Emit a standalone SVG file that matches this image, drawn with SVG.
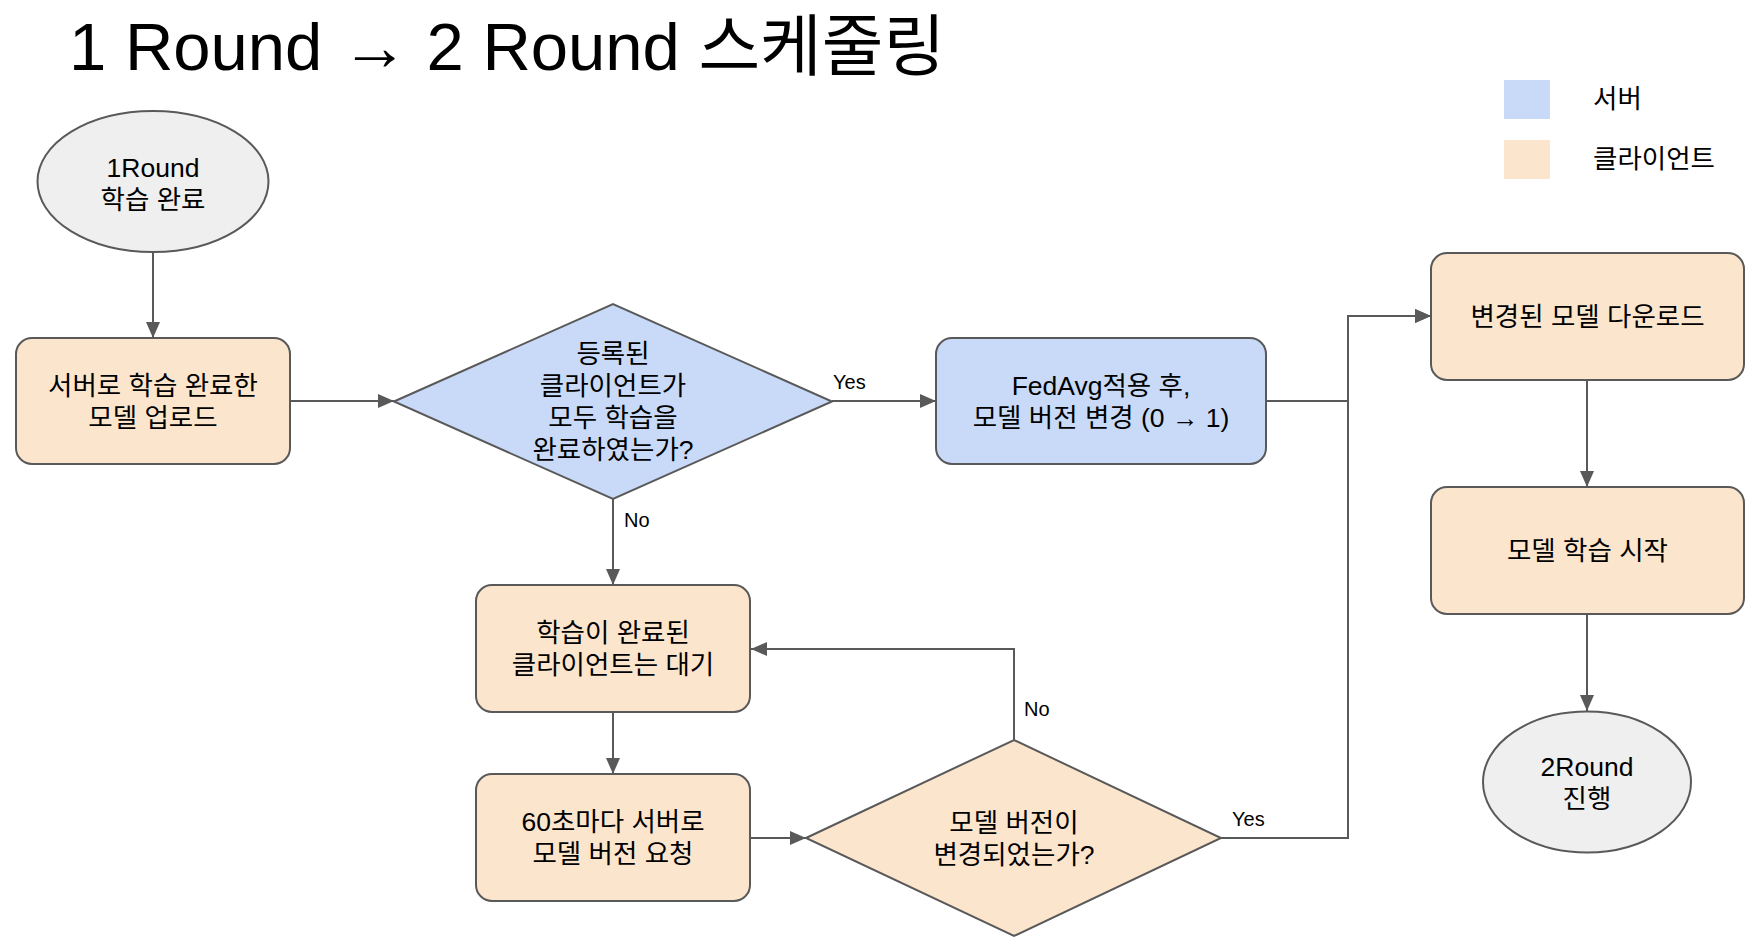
<svg xmlns="http://www.w3.org/2000/svg" width="1756" height="949" viewBox="0 0 1756 949">
<style>
.t{font-family:"Liberation Sans","Noto Sans CJK KR",sans-serif;fill:#000;}
.n{font-size:26.5px;text-anchor:middle;}
.lbl{font-size:20px;}
.cl{fill:#FCE5CD;stroke:#595959;stroke-width:2;}
.sv{fill:#C9DAF8;stroke:#595959;stroke-width:2;}
.gr{fill:#EFEFEF;stroke:#595959;stroke-width:2;}
.c{fill:none;stroke:#595959;stroke-width:2;marker-end:url(#ah);}
</style>
<defs>
<marker id="ah" markerUnits="userSpaceOnUse" markerWidth="16" markerHeight="14" refX="16" refY="7" orient="auto">
<path d="M0,0 L16,7 L0,14 z" fill="#595959"/>
</marker>
</defs>
<rect width="1756" height="949" fill="#fff"/>
<text class="t" x="69" y="70" font-size="67">1 Round → 2 Round 스케줄링</text>

<g id="legend">
<rect x="1504" y="80" width="46" height="39" fill="#C9DAF8"/>
<rect x="1504" y="140" width="46" height="39" fill="#FCE5CD"/>
<text class="t" x="1593" y="108" font-size="26.5">서버</text>
<text class="t" x="1593" y="168" font-size="26.5">클라이언트</text>
</g>

<g id="connectors">
<path class="c" d="M153 252 V338"/>
<path class="c" d="M290 401 H394"/>
<path class="c" d="M832 401 H936"/>
<path class="c" d="M1266 401 H1348 V316 H1431"/>
<path class="c" d="M1587 380 V487"/>
<path class="c" d="M1587 614 V711"/>
<path class="c" d="M613 499 V585"/>
<path class="c" d="M613 712 V774"/>
<path class="c" d="M750 838 H806"/>
<path class="c" d="M1014 740 V649 H751"/>
<path class="c" d="M1221 838 H1348 V316 H1431"/>
<text class="t lbl" x="833" y="389">Yes</text>
<text class="t lbl" x="624" y="527">No</text>
<text class="t lbl" x="1024" y="716">No</text>
<text class="t lbl" x="1232" y="826">Yes</text>
</g>

<g id="start">
<ellipse class="gr" cx="153" cy="181.5" rx="115.5" ry="70.5"/>
<text class="t n" x="153" y="177">1Round</text>
<text class="t n" x="153" y="209">학습 완료</text>
</g>

<g id="upload">
<rect class="cl" x="16" y="338" width="274" height="126" rx="16"/>
<text class="t n" x="153" y="395">서버로 학습 완료한</text>
<text class="t n" x="153" y="427">모델 업로드</text>
</g>

<g id="allDone">
<polygon class="sv" points="394,401.5 613,304 832,401.5 613,499"/>
<text class="t n" x="613" y="363">등록된</text>
<text class="t n" x="613" y="395">클라이언트가</text>
<text class="t n" x="613" y="427">모두 학습을</text>
<text class="t n" x="613" y="459">완료하였는가?</text>
</g>

<g id="fedavg">
<rect class="sv" x="936" y="338" width="330" height="126" rx="16"/>
<text class="t n" x="1101" y="395">FedAvg적용 후,</text>
<text class="t n" x="1101" y="427">모델 버전 변경 (0 → 1)</text>
</g>

<g id="download">
<rect class="cl" x="1431" y="253" width="313" height="127" rx="16"/>
<text class="t n" x="1587.5" y="326">변경된 모델 다운로드</text>
</g>

<g id="train">
<rect class="cl" x="1431" y="487" width="313" height="127" rx="16"/>
<text class="t n" x="1587.5" y="560">모델 학습 시작</text>
</g>

<g id="end">
<ellipse class="gr" cx="1587" cy="782" rx="104" ry="70.5"/>
<text class="t n" x="1587" y="776">2Round</text>
<text class="t n" x="1587" y="808">진행</text>
</g>

<g id="wait">
<rect class="cl" x="476" y="585" width="274" height="127" rx="16"/>
<text class="t n" x="613" y="642">학습이 완료된</text>
<text class="t n" x="613" y="674">클라이언트는 대기</text>
</g>

<g id="poll">
<rect class="cl" x="476" y="774" width="274" height="127" rx="16"/>
<text class="t n" x="613" y="831">60초마다 서버로</text>
<text class="t n" x="613" y="863">모델 버전 요청</text>
</g>

<g id="changed">
<polygon class="cl" points="806,838 1014,740 1221,838 1014,936"/>
<text class="t n" x="1014" y="832">모델 버전이</text>
<text class="t n" x="1014" y="864">변경되었는가?</text>
</g>
</svg>
